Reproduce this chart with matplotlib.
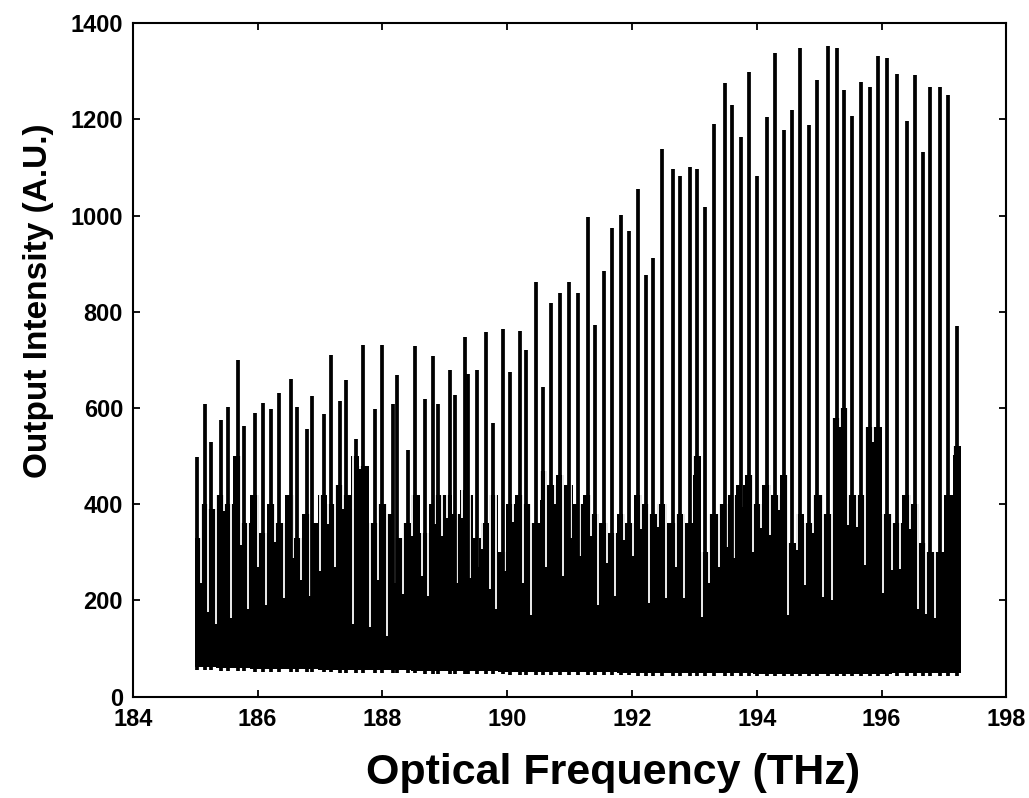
import numpy as np
import matplotlib
matplotlib.use('Agg')
import matplotlib.pyplot as plt

plt.rcParams['font.family'] = ['Liberation Sans', 'DejaVu Sans']

# tall channel peaks (THz, A.U.)
peak_freq = [185.03, 185.15, 185.26, 185.41, 185.52, 185.68, 185.79, 185.96, 186.08, 186.22,
             186.34, 186.53, 186.63, 186.80, 186.87, 187.06, 187.17, 187.32, 187.41, 187.57,
             187.69, 187.88, 187.99, 188.17, 188.24, 188.41, 188.52, 188.68, 188.81, 188.89,
             189.08, 189.16, 189.32, 189.38, 189.51, 189.66, 189.77, 189.93, 190.04, 190.20,
             190.31, 190.47, 190.57, 190.71, 190.84, 190.99, 191.13, 191.29, 191.40, 191.55,
             191.68, 191.83, 191.96, 192.09, 192.22, 192.33, 192.48, 192.65, 192.77, 192.93,
             193.04, 193.17, 193.31, 193.49, 193.60, 193.74, 193.87, 194.00, 194.16, 194.30,
             194.43, 194.56, 194.70, 194.83, 194.97, 195.14, 195.28, 195.40, 195.52, 195.67,
             195.81, 195.94, 196.08, 196.24, 196.40, 196.53, 196.66, 196.78, 196.93, 197.07,
             197.21]
peak_height = [498, 609, 530, 576, 602, 699, 562, 590, 610, 597,
               632, 661, 602, 556, 625, 588, 711, 615, 658, 536,
               731, 597, 731, 609, 669, 513, 729, 619, 708, 609,
               680, 627, 748, 671, 680, 757, 569, 764, 674, 760,
               720, 861, 643, 819, 840, 861, 840, 996, 773, 884,
               975, 1002, 967, 1056, 877, 912, 1139, 1097, 1082, 1100,
               1097, 1018, 1190, 1275, 1229, 1164, 1298, 1083, 1205, 1338,
               1177, 1220, 1348, 1188, 1282, 1352, 1348, 1262, 1207, 1277,
               1268, 1331, 1327, 1295, 1197, 1292, 1132, 1267, 1267, 1251,
               771]
# level of the broad black skirt under each peak
skirt_height = [330, 400, 390, 420, 400, 500, 360, 420, 340, 400,
                360, 420, 330, 380, 360, 420, 400, 440, 420, 500,
                480, 360, 400,
                380, 330, 360, 420, 340, 400, 420, 420, 380, 430,
                420, 330, 360, 420, 300, 400, 420,
                400, 360, 470, 440, 460, 440, 400, 420, 380, 360,
                340, 380, 360, 420, 400, 380, 400, 360, 380, 360, 500,
                300, 380, 400, 420, 440, 460, 400, 440, 420, 460,
                320, 380, 360, 420, 380, 580, 600, 420, 420, 560,
                560, 380, 360, 420, 400, 320, 300, 300, 420, 520]
# narrow white gaps between channels and how deep they reach
notch_freq = [185.10, 185.21, 185.33, 185.46, 185.58, 185.74, 185.85, 186.01, 186.14, 186.28,
              186.42, 186.57, 186.70, 186.84, 187.00, 187.13, 187.24, 187.37, 187.53, 187.64,
              187.80, 187.93, 188.07, 188.20, 188.33, 188.47, 188.63, 188.73, 188.84, 188.95,
              189.03, 189.19, 189.27, 189.40, 189.53, 189.59, 189.72, 189.82, 189.96, 190.09,
              190.25, 190.39, 190.52, 190.63, 190.76, 190.89, 191.03, 191.16, 191.34, 191.46,
              191.60, 191.73, 191.88, 192.02, 192.15, 192.28, 192.41, 192.55, 192.71, 192.84,
              192.98, 193.13, 193.24, 193.39, 193.52, 193.64, 193.77, 193.94, 194.07, 194.22,
              194.35, 194.50, 194.64, 194.77, 194.90, 195.06, 195.20, 195.34, 195.46, 195.60,
              195.74, 195.86, 196.02, 196.16, 196.29, 196.45, 196.58, 196.72, 196.85, 196.98,
              197.14]
notch_depth = [237, 177, 150, 386, 164, 316, 183, 270, 191, 322,
               206, 289, 243, 210, 262, 358, 270, 390, 150, 474,
               145, 243, 127, 237, 214, 334, 251, 210, 358, 334,
               372, 237, 372, 247, 270, 307, 224, 183, 262, 363,
               237, 170, 409, 270, 401, 251, 330, 293, 334, 191,
               278, 210, 326, 293, 349, 195, 353, 206, 270, 206,
               461, 166, 237, 270, 312, 289, 395, 301, 351, 336,
               388, 170, 305, 233, 341, 208, 201, 560, 357, 353,
               274, 530, 216, 264, 266, 349, 183, 172, 164, 345,
               503]
# lower edge of the noise band
floor_freq = [184.99, 186, 188, 190, 192, 194, 196, 197.27]
floor_level = [62, 58, 55, 52, 50, 48, 48, 50]
band_start = 184.99
band_end = 197.27

fig = plt.figure(figsize=(10.29, 7.98), dpi=100)
ax = fig.add_axes([0.129, 0.127, 0.849, 0.844])

x_env = np.array([band_start] + peak_freq + [band_end])
y_env = np.array([skirt_height[0]] + skirt_height + [skirt_height[-1]])
floor_env = np.interp(x_env, floor_freq, floor_level)
ax.fill_between(x_env, floor_env, y_env, step='mid', color='black', lw=0)

ax.vlines(notch_freq, notch_depth, max(peak_height) + 5, colors='white', lw=1.3)

# peaks dip a little below the band edge, giving the ragged bottom
peak_floor = np.interp(peak_freq, floor_freq, floor_level) - 6
ax.vlines(peak_freq, peak_floor, peak_height, colors='black', lw=2.7)

ax.set_xlim(184, 198)
ax.set_ylim(0, 1400)
ax.set_xticks(np.arange(184, 199, 2))
ax.set_yticks(np.arange(0, 1401, 200))
ax.tick_params(direction='in', top=True, right=True, length=5, width=1.3,
               labelsize=17)
ax.tick_params(axis='y', pad=7)
ax.tick_params(axis='x', pad=8)
for lab in ax.get_xticklabels() + ax.get_yticklabels():
    lab.set_fontweight('bold')
for sp in ax.spines.values():
    sp.set_linewidth(1.5)

fig.text(0.596, 0.031, 'Optical Frequency (THz)', ha='center', va='center',
         fontsize=31, fontweight='bold')
fig.text(0.037, 0.623, 'Output Intensity (A.U.)', ha='center', va='center',
         rotation=90, fontsize=24, fontweight='bold')

fig.savefig('out.png', dpi=100)
